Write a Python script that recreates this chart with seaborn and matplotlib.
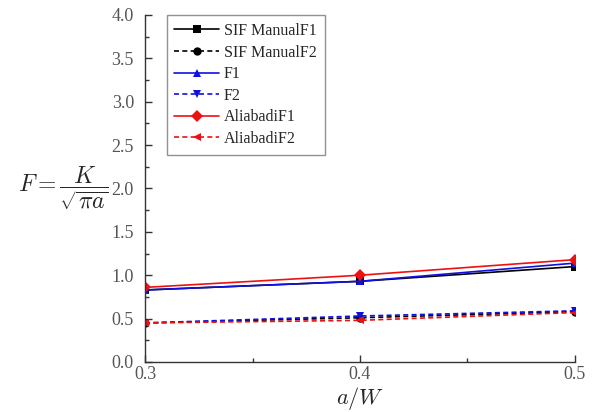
import pandas as pd
import matplotlib.pyplot as plt
import numpy as np
import seaborn as sns
from matplotlib.ticker import MultipleLocator

# a/W values
a_w = [0.3, 0.4, 0.5]

# F values
sif_f1 = [0.83, 0.93, 1.10]
sif_f2 = [0.45, 0.51, 0.58]
f1 = [0.83, 0.93, 1.14]
f2 = [0.45, 0.53, 0.59]
aliabadi_f1 = [0.86, 1.00, 1.18]
aliabadi_f2 = [0.45, 0.48, 0.57]

series_names = ['SIF ManualF1', 'SIF ManualF2', 'F1', 'F2', 'AliabadiF1', 'AliabadiF2']
series_values = [sif_f1, sif_f2, f1, f2, aliabadi_f1, aliabadi_f2]

# long format table for seaborn
data = pd.DataFrame({
    'a/W': a_w * len(series_names),
    'F': np.concatenate(series_values),
    'series': np.repeat(series_names, len(a_w)),
})

colors = ['black', 'black', '#1010e0', '#1010e0', '#ee1111', '#ee1111']
markers = ['s', 'o', '^', 'v', 'D', '<']
dashes = ['', (3, 2), '', (3, 2), '', (3, 2)]

sns.set_style('ticks')
plt.rcParams['font.family'] = ['Liberation Serif', 'DejaVu Serif']
plt.rcParams['mathtext.fontset'] = 'cm'

fig = plt.figure(figsize=(5.98, 4.12), dpi=100)
ax = fig.add_axes([0.2425, 0.1214, 0.719, 0.8422])

sns.lineplot(data=data, x='a/W', y='F', hue='series', style='series',
             hue_order=series_names, style_order=series_names,
             palette=dict(zip(series_names, colors)),
             markers=dict(zip(series_names, markers)),
             dashes=dict(zip(series_names, dashes)),
             markersize=6, markeredgewidth=0, linewidth=1.2, ax=ax)

ax.set_xlim(0.3, 0.5)
ax.set_ylim(0.0, 4.0)
ax.xaxis.set_major_locator(MultipleLocator(0.1))
ax.xaxis.set_minor_locator(MultipleLocator(0.05))
ax.yaxis.set_major_locator(MultipleLocator(0.5))
ax.yaxis.set_minor_locator(MultipleLocator(0.25))
ax.xaxis.set_major_formatter(lambda v, p: f'{v:.1f}')
ax.yaxis.set_major_formatter(lambda v, p: f'{v:.1f}')

for s in ['top', 'right']:
    ax.spines[s].set_visible(False)
for s in ['left', 'bottom']:
    ax.spines[s].set_color('#333333')
    ax.spines[s].set_linewidth(1.0)
ax.tick_params(which='major', direction='in', length=5, width=1, colors='#333333',
               labelsize=13, labelcolor='#555555')
ax.tick_params(which='minor', direction='in', length=3, width=1, colors='#333333')
ax.tick_params(axis='x', pad=3)
ax.tick_params(axis='y', pad=8)

ax.set_xlabel('$a/W$', fontsize=16, labelpad=1)
ax.set_ylabel(r'$F=\dfrac{K}{\sqrt{\pi a}}$', fontsize=17, rotation=0, va='center')
ax.yaxis.set_label_coords(-0.19, 0.5)

leg = ax.legend(loc='upper left', bbox_to_anchor=(0.05, 1.0), frameon=True, fancybox=False,
                fontsize=11.5, handlelength=2.8, handletextpad=0.3, borderpad=0.5,
                labelspacing=0.35, borderaxespad=0)
leg.get_frame().set_edgecolor('#777777')
leg.get_frame().set_linewidth(1.0)

plt.savefig('out.png', dpi=100)
